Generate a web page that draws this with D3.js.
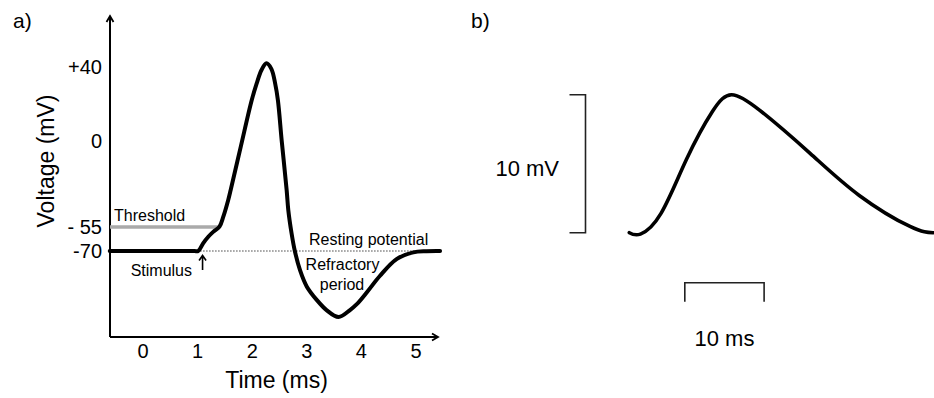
<!DOCTYPE html>
<html>
<head>
<meta charset="utf-8">
<script src="https://cdn.jsdelivr.net/npm/d3@7"></script>
<style>
    body { margin: 0; background: #fff; }
    svg { display: block; font-family: 'Liberation Sans', Arial, sans-serif; }
    .curve { fill: none; stroke: #000; stroke-linejoin: round; stroke-linecap: round; }
    .axis text { font-size: 20px; fill: #000; }
    .note { font-size: 16px; fill: #000; }
</style>
</head>
<body>
<svg id="chart" width="934" height="398"></svg>
<script>
'use strict';

// a) action potential (ms, mV)
const apTime = [-0.6, 0.95, 1.02, 1.11, 1.205, 1.30, 1.41, 1.48, 1.57, 1.615, 1.8, 2.0, 2.09, 2.18, 2.27, 2.36,
    2.43, 2.48, 2.55, 2.64, 2.67, 2.73, 2.79, 2.885, 3.01, 3.19, 3.37, 3.59, 3.80, 3.92, 4.11, 4.35, 4.66,
    4.96, 5.2, 5.45];
const apVoltage = [-70, -70, -70, -65.2, -61.1, -57.9, -54.8, -48.4, -37.7, -31.3, -3.6, 22, 31, 38.4, 42, 39,
    31, 22, 0, -31.3, -44.1, -58.9, -70, -75.8, -80.8, -84.8, -87.9, -90, -87.9, -86.2, -82.5, -77.5, -72.4,
    -70.4, -70.05, -70];

const thresholdTime = [-0.6, 1.4];
const thresholdVoltage = -55;
const restingTime = [1.0, 5.0];
const restingVoltage = -70;
const stimulusTime = 1.1;

const timeTicks = [0, 1, 2, 3, 4, 5];
const voltageTicks = [40, 0, -55, -70];
const voltageTickLabels = ['+40', '0', '- 55', '-70'];

// b) postsynaptic potential (ms, mV)
const pspTime = [0, 1.4, 4, 7.2, 10.5, 12.9, 16.5, 22.8, 29, 35.4, 38.3];
const pspVoltage = [0, -0.1, 1.4, 5.3, 8.8, 10, 8.85, 5.75, 2.7, 0.45, 0];
const scaleBarVoltage = [0, 10];
const scaleBarTime = [7, 17];

const svg = d3.select('#chart');

/**
 * Panel a: the action potential with its axes and notes
 */
function drawActionPotential() {
    const g = svg.append('g');

    const x = d3.scaleLinear().domain([0, 5]).range([142.5, 415.5]);
    // schematic, not linear: one segment per labelled level
    const y = d3.scaleLinear()
        .domain([-90, -70, -55, 0, 40])
        .range([317, 251, 227, 141, 67]);

    const axisX = 110, axisY = 337, axisTop = 17, axisRight = 437;

    g.append('text')
        .attr('x', 13).attr('y', 28)
        .style('font-size', '21px')
        .text('a)');

    // ticks only, the axis lines are drawn by hand with arrows
    g.append('g')
        .attr('class', 'axis')
        .attr('transform', 'translate(' + axisX + ',0)')
        .call(d3.axisLeft(y)
            .tickValues(voltageTicks)
            .tickFormat((d, i) => voltageTickLabels[i])
            .tickSize(0)
            .tickPadding(8))
        .call(a => a.select('.domain').remove());

    g.append('g')
        .attr('class', 'axis')
        .attr('transform', 'translate(0,' + axisY + ')')
        .call(d3.axisBottom(x)
            .tickValues(timeTicks)
            .tickFormat(d3.format('d'))
            .tickSize(0)
            .tickPadding(6.5))
        .call(a => a.select('.domain').remove());

    g.append('path')
        .attr('d', 'M' + axisX + ',' + axisY + 'V' + axisTop + 'M' + axisX + ',' + axisY + 'H' + axisRight)
        .attr('fill', 'none')
        .attr('stroke', '#000')
        .attr('stroke-width', 2);

    g.append('path')
        .attr('d', 'M' + (axisX - 3.5) + ',' + (axisTop + 5) + 'L' + axisX + ',' + (axisTop - 1) + 'L' + (axisX + 3.5) + ',' + (axisTop + 5)
            + 'M' + (axisRight - 5) + ',' + (axisY - 3.5) + 'L' + (axisRight + 1) + ',' + axisY + 'L' + (axisRight - 5) + ',' + (axisY + 3.5))
        .attr('fill', 'none')
        .attr('stroke', '#000')
        .attr('stroke-width', 1.8);

    g.append('text')
        .attr('x', (axisX + axisRight) / 2 + 3).attr('y', 388)
        .attr('text-anchor', 'middle')
        .style('font-size', '23px')
        .text('Time (ms)');

    g.append('text')
        .attr('transform', 'translate(54,161) rotate(-90)')
        .attr('text-anchor', 'middle')
        .style('font-size', '23px')
        .text('Voltage (mV)');

    // resting potential, dotted
    g.append('line')
        .attr('x1', x(restingTime[0])).attr('x2', x(restingTime[1]))
        .attr('y1', y(restingVoltage)).attr('y2', y(restingVoltage))
        .attr('stroke', '#444')
        .attr('stroke-width', 1)
        .attr('stroke-dasharray', '1.5,1.5');

    // threshold, grey
    g.append('line')
        .attr('x1', axisX).attr('x2', x(thresholdTime[1]))
        .attr('y1', y(thresholdVoltage)).attr('y2', y(thresholdVoltage))
        .attr('stroke', '#aaa')
        .attr('stroke-width', 3.5);

    const line = d3.line()
        .x((d, i) => x(apTime[i]))
        .y(d => y(d))
        .curve(d3.curveCatmullRom.alpha(0.5));

    g.append('path')
        .datum(apVoltage)
        .attr('class', 'curve')
        .attr('stroke-width', 4)
        .attr('d', line);

    // stimulus arrow
    const sx = x(stimulusTime), sy = y(restingVoltage);
    g.append('path')
        .attr('d', 'M' + sx + ',' + (sy + 19) + 'V' + (sy + 5)
            + 'M' + (sx - 3.5) + ',' + (sy + 9.5) + 'L' + sx + ',' + (sy + 4.5) + 'L' + (sx + 3.5) + ',' + (sy + 9.5))
        .attr('fill', 'none')
        .attr('stroke', '#000')
        .attr('stroke-width', 1.6);

    g.append('text').attr('class', 'note')
        .attr('x', 192).attr('y', 276)
        .attr('text-anchor', 'end')
        .text('Stimulus');

    g.append('text').attr('class', 'note')
        .attr('x', 114).attr('y', 221)
        .text('Threshold');

    g.append('text').attr('class', 'note')
        .attr('x', 309).attr('y', 245)
        .text('Resting potential');

    g.append('text').attr('class', 'note')
        .attr('x', 342.5).attr('y', 270)
        .attr('text-anchor', 'middle')
        .text('Refractory');

    g.append('text').attr('class', 'note')
        .attr('x', 342).attr('y', 290)
        .attr('text-anchor', 'middle')
        .text('period');
}

/**
 * Panel b: the postsynaptic potential with its scale bars
 */
function drawPsp() {
    const g = svg.append('g');

    const x = d3.scaleLinear().domain([0, 10]).range([629.3, 708.6]);
    const y = d3.scaleLinear().domain([0, 10]).range([232.7, 94.7]);

    g.append('text')
        .attr('x', 471).attr('y', 28)
        .style('font-size', '21px')
        .text('b)');

    // vertical 10 mV bar
    const vx = 585.5;
    g.append('path')
        .attr('d', 'M' + (vx - 16) + ',' + y(scaleBarVoltage[1]) + 'H' + vx
            + 'V' + y(scaleBarVoltage[0]) + 'H' + (vx - 16))
        .attr('fill', 'none')
        .attr('stroke', '#222')
        .attr('stroke-width', 1.6);

    g.append('text')
        .attr('x', 559).attr('y', 176)
        .attr('text-anchor', 'end')
        .style('font-size', '22px')
        .text('10 mV');

    // horizontal 10 ms bar
    const hy = 282.7;
    g.append('path')
        .attr('d', 'M' + x(scaleBarTime[0]) + ',' + (hy + 19) + 'V' + hy
            + 'H' + x(scaleBarTime[1]) + 'V' + (hy + 19))
        .attr('fill', 'none')
        .attr('stroke', '#222')
        .attr('stroke-width', 1.6);

    g.append('text')
        .attr('x', (x(scaleBarTime[0]) + x(scaleBarTime[1])) / 2).attr('y', 346)
        .attr('text-anchor', 'middle')
        .style('font-size', '22px')
        .text('10 ms');

    const line = d3.line()
        .x((d, i) => x(pspTime[i]))
        .y(d => y(d))
        .curve(d3.curveNatural);

    g.append('path')
        .datum(pspVoltage)
        .attr('class', 'curve')
        .attr('stroke-width', 3.6)
        .attr('d', line);
}

drawActionPotential();
drawPsp();
</script>
</body>
</html>
